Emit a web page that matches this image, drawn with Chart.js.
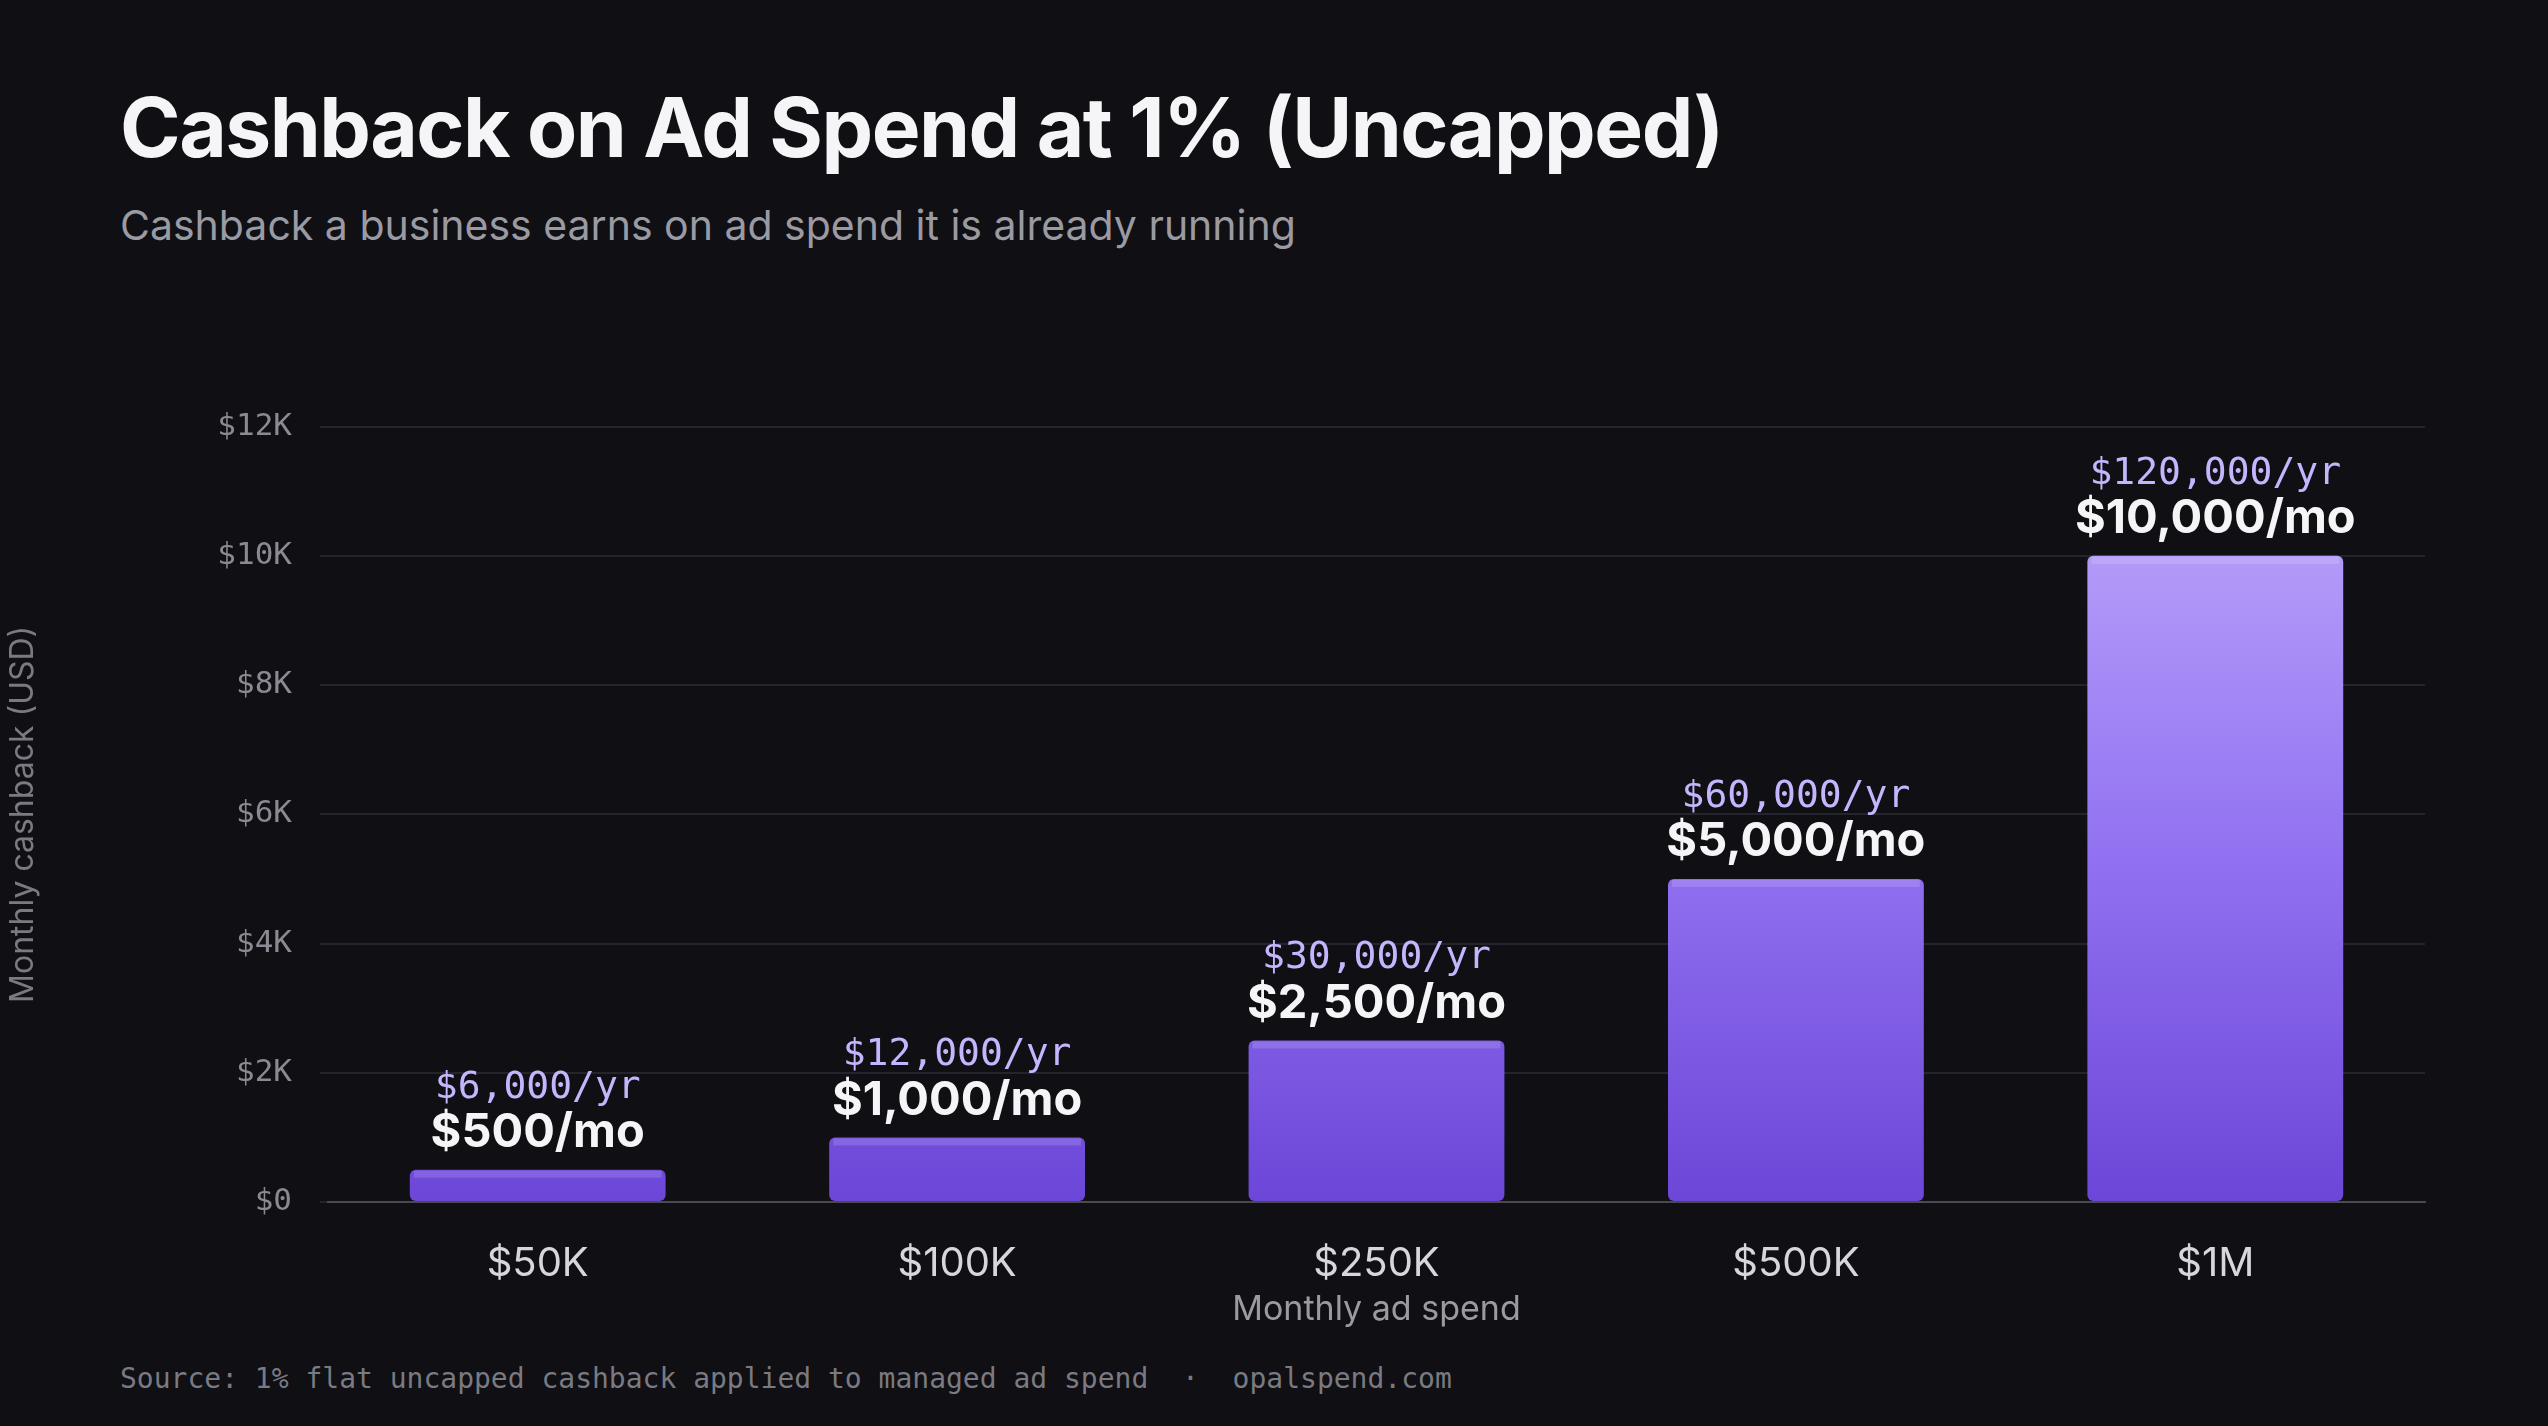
<!DOCTYPE html>
<html>
<head>
<meta charset="utf-8">
<script src="https://cdn.jsdelivr.net/npm/chart.js@4.4.1/dist/chart.umd.min.js"></script>
<style>
  html, body { margin: 0; padding: 0; background: #0f0f14; width: 2548px; height: 1426px; overflow: hidden; }
  h1 { position: absolute; left: 120px; top: 78px; margin: 0; font: 700 82px Inter, sans-serif; color: #f5f5f7; letter-spacing: -1.5px; }
  .sub { position: absolute; left: 120px; top: 200px; font: 400 41px Inter, sans-serif; color: #9a9aa3; }
  .foot { position: absolute; left: 120px; top: 1362px; font: 400 28px "DejaVu Sans Mono", monospace; color: #7a7a82; white-space: pre; }
  #wrap { position: absolute; left: 0; top: 380px; width: 2548px; height: 950px; }
</style>
</head>
<body>
<h1>Cashback on Ad Spend at 1% (Uncapped)</h1>
<div class="sub">Cashback a business earns on ad spend it is already running</div>
<div class="foot">Source: 1% flat uncapped cashback applied to managed ad spend  ·  opalspend.com</div>
<div id="wrap"><canvas id="c"></canvas></div>
<script>
const categories = ["$50K", "$100K", "$250K", "$500K", "$1M"];
const monthly = [500, 1000, 2500, 5000, 10000];
const monthlyLabels = ["$500/mo", "$1,000/mo", "$2,500/mo", "$5,000/mo", "$10,000/mo"];
const yearlyLabels = ["$6,000/yr", "$12,000/yr", "$30,000/yr", "$60,000/yr", "$120,000/yr"];
const yTicks = ["$0", "$2K", "$4K", "$6K", "$8K", "$10K", "$12K"];

const barLabels = {
  id: "barLabels",
  afterDatasetsDraw(chart) {
    const ctx = chart.ctx;
    const meta = chart.getDatasetMeta(0);
    meta.data.forEach((bar, i) => {
      // top highlight strip
      ctx.save();
      ctx.fillStyle = "rgba(255,255,255,0.14)";
      const w = bar.width;
      ctx.fillRect(bar.x - w / 2 + 4, bar.y + 1, w - 8, 7);
      ctx.textAlign = "center";
      ctx.textBaseline = "middle";
      ctx.fillStyle = "#f5f5f7";
      ctx.font = "700 47px Inter, sans-serif";
      ctx.fillText(monthlyLabels[i], bar.x, bar.y - 37);
      ctx.fillStyle = "#c4b5fd";
      ctx.font = "400 38px 'DejaVu Sans Mono', monospace";
      ctx.fillText(yearlyLabels[i], bar.x, bar.y - 82);
      ctx.restore();
    });
  }
};

new Chart(document.getElementById("c"), {
  type: "bar",
  data: {
    labels: categories,
    datasets: [{
      data: monthly,
      barPercentage: 0.61,
      categoryPercentage: 1,
      borderRadius: 6,
      borderSkipped: false,
      backgroundColor: (context) => {
        const area = context.chart.chartArea;
        if (!area) return "#8b6af0";
        const g = context.chart.ctx.createLinearGradient(0, area.top, 0, area.bottom);
        g.addColorStop(0, "#c0acfb");
        g.addColorStop(0.5, "#9677f3");
        g.addColorStop(1, "#6c46d8");
        return g;
      }
    }]
  },
  options: {
    responsive: true,
    maintainAspectRatio: false,
    animation: false,
    layout: { padding: { top: 41, right: 123, left: 0, bottom: 0 } },
    plugins: { legend: { display: false }, tooltip: { enabled: false } },
    scales: {
      x: {
        grid: { display: false },
        border: { color: "#4a4a52", width: 2 },
        ticks: { color: "#d6d6dc", font: { family: "Inter, sans-serif", size: 40 }, padding: 30 },
        title: { display: true, text: "Monthly ad spend", color: "#9a9aa3",
                 font: { family: "Inter, sans-serif", size: 34 }, padding: { top: 4, bottom: 0 } },
        afterFit(scale) { scale.height = 128; }
      },
      y: {
        min: 0, max: 12000,
        ticks: { stepSize: 2000, color: "#8a8a92", padding: 28,
                 font: { family: "'DejaVu Sans Mono', monospace", size: 31 },
                 callback: (v, i) => yTicks[i] },
        grid: { color: "#24242c", lineWidth: 2 },
        border: { display: false },
        title: { display: true, text: "Monthly cashback (USD)", color: "#7a7a82",
                 font: { family: "Inter, sans-serif", size: 32 } },
        afterFit(scale) { scale.width = 328; }
      }
    }
  },
  plugins: [barLabels]
});
</script>
</body>
</html>
